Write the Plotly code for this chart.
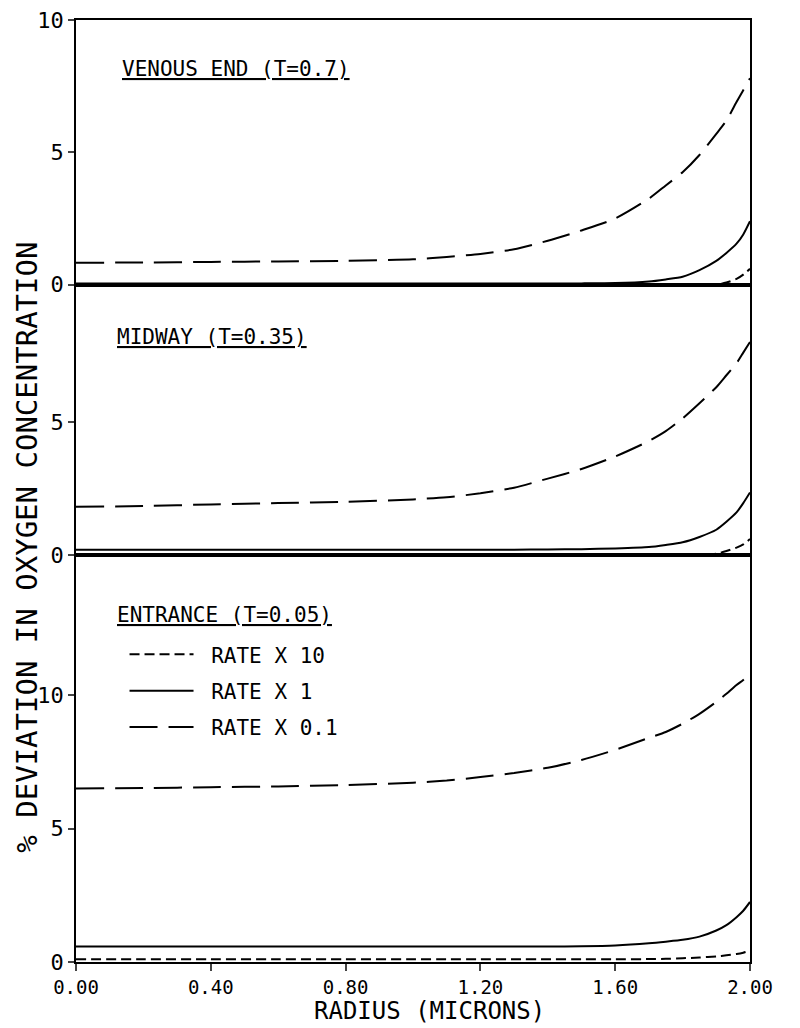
import plotly.graph_objects as go

# radius grid (microns)
radius = [0.0, 0.2, 0.4, 0.6, 0.8, 1.0, 1.1, 1.2, 1.3, 1.4, 1.5, 1.6, 1.7,
          1.75, 1.8, 1.85, 1.9, 1.93, 1.96, 1.98, 2.0]

# venous end (T=0.7)
venous_x10 = [0, 0, 0, 0, 0, 0, 0, 0, 0, 0, 0, 0, 0,
              0, 0, 0, 0, 0.08, 0.22, 0.38, 0.6]
venous_x1 = [0.05, 0.05, 0.05, 0.05, 0.05, 0.05, 0.05, 0.05, 0.05, 0.05, 0.05, 0.06, 0.12,
             0.2, 0.3, 0.55, 0.9, 1.2, 1.55, 1.9, 2.4]
venous_x01 = [0.83, 0.84, 0.86, 0.88, 0.9, 0.96, 1.05, 1.16, 1.34, 1.66, 2.05, 2.5, 3.25,
              3.75, 4.25, 4.9, 5.7, 6.2, 6.9, 7.35, 7.8]

# midway (T=0.35)
midway_x10 = [0, 0, 0, 0, 0, 0, 0, 0, 0, 0, 0, 0, 0,
              0, 0, 0, 0.05, 0.15, 0.28, 0.4, 0.6]
midway_x1 = [0.2, 0.2, 0.2, 0.2, 0.2, 0.2, 0.2, 0.2, 0.2, 0.21, 0.22, 0.25, 0.3,
             0.38, 0.48, 0.68, 0.95, 1.25, 1.6, 1.95, 2.35]
midway_x01 = [1.81, 1.84, 1.9, 1.95, 2.0, 2.09, 2.17, 2.32, 2.53, 2.87, 3.23, 3.7, 4.28,
              4.65, 5.13, 5.7, 6.3, 6.75, 7.2, 7.6, 8.0]

# entrance (T=0.05)
entrance_x10 = [0.1, 0.1, 0.1, 0.1, 0.1, 0.1, 0.1, 0.1, 0.1, 0.1, 0.1, 0.1, 0.11,
                0.12, 0.14, 0.17, 0.21, 0.25, 0.3, 0.35, 0.42]
entrance_x1 = [0.58, 0.58, 0.58, 0.58, 0.58, 0.58, 0.58, 0.58, 0.58, 0.58, 0.59, 0.62, 0.7,
               0.76, 0.83, 0.95, 1.18, 1.38, 1.68, 1.92, 2.25]
entrance_x01 = [6.5, 6.52, 6.55, 6.58, 6.63, 6.72, 6.8, 6.93, 7.08, 7.28, 7.57, 7.95, 8.4,
                8.62, 8.93, 9.3, 9.75, 10.05, 10.38, 10.57, 10.8]

rate_names = ["RATE X 10", "RATE X 1", "RATE X 0.1"]
rate_dash = ["10px,5px", "solid", "28px,11px"]

x_ticks = [0.0, 0.4, 0.8, 1.2, 1.6, 2.0]

FONT = "DejaVu Sans Mono"

fig = go.Figure()

panels = [
    ("x3", "y", [venous_x10, venous_x1, venous_x01], False),
    ("x2", "y2", [midway_x10, midway_x1, midway_x01], False),
    ("x", "y3", [entrance_x10, entrance_x1, entrance_x01], True),
]
for xa, ya, series, show in panels:
    for i, vals in enumerate(series):
        fig.add_trace(go.Scatter(
            x=radius, y=vals, mode="lines", xaxis=xa, yaxis=ya,
            name="\u00a0" + rate_names[i], showlegend=show, legendgroup=rate_names[i],
            line=dict(color="black", width=2, dash=rate_dash[i],
                      shape="spline", smoothing=0.6),
        ))

axis_common = dict(showline=True, linecolor="black", linewidth=1.6, mirror=True,
                   showgrid=False, zeroline=False, automargin=False)
ytick_common = dict(ticks="outside", ticklen=6, tickwidth=1.6, tickfont=dict(size=22),
                    ticklabeloverflow="allow")

# page body adds an 8px offset, so the figure is a little smaller than the window
fig.update_layout(
    width=792, height=1020,
    margin=dict(l=68, r=50, t=12, b=66, autoexpand=False),
    plot_bgcolor="white", paper_bgcolor="white",
    font=dict(family=FONT, color="black"),
    xaxis=dict(domain=[0, 1], anchor="y3", range=[0, 2], tickvals=x_ticks,
               tickformat=".2f", ticks="outside", ticklen=7, tickwidth=1.6,
               tickfont=dict(size=19), **axis_common),
    xaxis2=dict(domain=[0, 1], anchor="y2", range=[0, 2], matches="x",
                showticklabels=False, ticks="", **axis_common),
    xaxis3=dict(domain=[0, 1], anchor="y", range=[0, 2], matches="x",
                showticklabels=False, ticks="", **axis_common),
    yaxis=dict(domain=[0.719, 1], anchor="x3", range=[0, 10], tickvals=[0, 5, 10],
               **ytick_common, **axis_common),
    yaxis2=dict(domain=[0.432, 0.719], anchor="x2", range=[0, 10.15], tickvals=[0, 5],
                **ytick_common, **axis_common),
    yaxis3=dict(domain=[0, 0.432], anchor="x", range=[0, 15.25], tickvals=[0, 5, 10],
                **ytick_common, **axis_common),
    legend=dict(x=0.072, y=0.348, xanchor="left", yanchor="top",
                bgcolor="rgba(0,0,0,0)", font=dict(size=21, family=FONT),
                itemwidth=64, tracegroupgap=6, traceorder="grouped"),
)

label_font = dict(size=21, family=FONT, color="black", lineposition="under")
fig.add_annotation(text="VENOUS END (T=0.7)", x=0.13, y=8.15, xref="x3", yref="y",
                   xanchor="left", yanchor="middle", showarrow=False, font=label_font)
fig.add_annotation(text="MIDWAY (T=0.35)", x=0.116, y=8.2, xref="x2", yref="y2",
                   xanchor="left", yanchor="middle", showarrow=False, font=label_font)
fig.add_annotation(text="ENTRANCE (T=0.05)", x=0.116, y=13.0, xref="x", yref="y3",
                   xanchor="left", yanchor="middle", showarrow=False, font=label_font)

# axis titles
fig.add_annotation(text="RADIUS (MICRONS)", x=0.524, y=-0.052, xref="paper", yref="paper",
                   xanchor="center", yanchor="middle", showarrow=False,
                   font=dict(size=24, family=FONT))
fig.add_annotation(text="% DEVIATION IN OXYGEN CONCENTRATION", x=-0.074, y=0.44,
                   xref="paper", yref="paper", textangle=-90, xanchor="center",
                   yanchor="middle", showarrow=False, font=dict(size=29, family=FONT))

fig.write_html("out.html")
